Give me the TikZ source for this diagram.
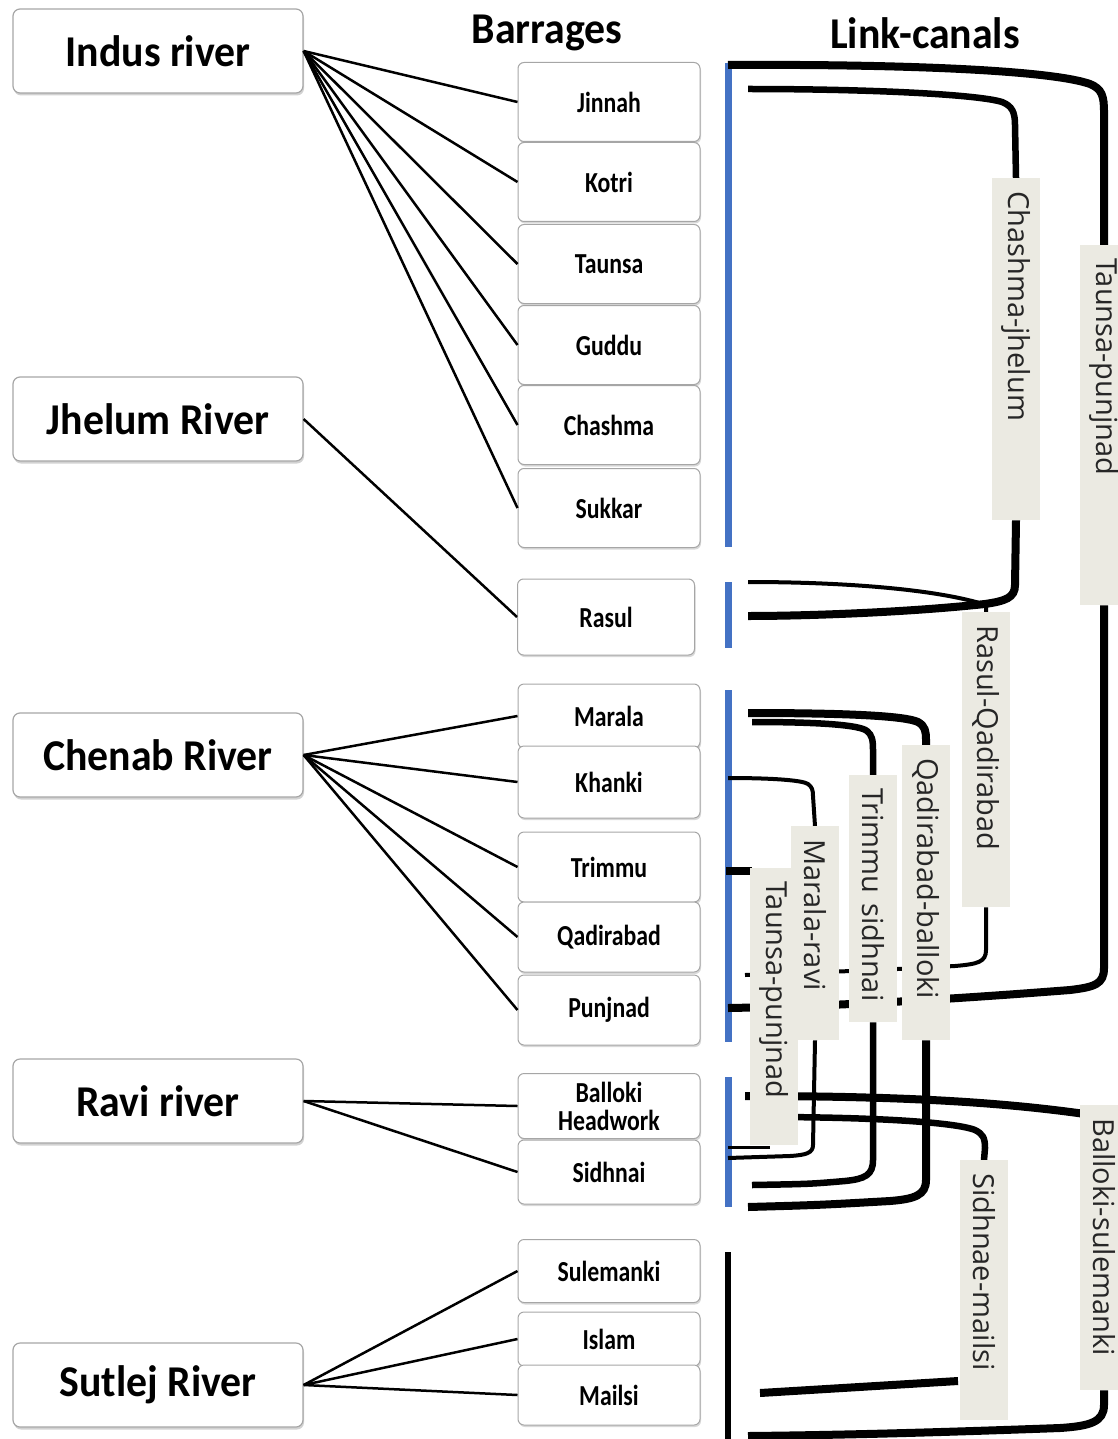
\documentclass[tikz,border=0pt]{standalone}
\usepackage{fontspec}
\setmainfont{Carlito}
\newfontfamily\rivfont{Carlito}[FakeStretch=0.95]
\newfontfamily\barfont{Carlito}[FakeStretch=0.82]
\newfontfamily\lblfont{Open Sans}
\usetikzlibrary{shadows,calc}
\pgfdeclarelayer{bg}
\pgfsetlayers{bg,main}
\definecolor{barblue}{HTML}{4472C4}
\definecolor{lblbg}{HTML}{EBEAE2}
\definecolor{boxline}{HTML}{A6A6A6}
\begin{document}
\begin{tikzpicture}[x=1pt,y=-1pt,
  rivbox/.style={draw=boxline, line width=1.2pt, rounded corners=7pt, fill=white,
    drop shadow={shadow xshift=1pt,shadow yshift=-2.5pt,fill=black!35},
    minimum width=290pt, minimum height=84pt, inner sep=0pt,
    font=\rivfont\bfseries\fontsize{44}{48}\selectfont},
  barbox/.style={draw=boxline, line width=1pt, rounded corners=6pt, fill=white,
    drop shadow={shadow xshift=1pt,shadow yshift=-2pt,fill=black!30},
    minimum width=182pt, inner sep=0pt, align=center,
    font=\barfont\bfseries\fontsize{29}{29}\selectfont},
  hdr/.style={font=\rivfont\bfseries\fontsize{44}{48}\selectfont, inner sep=0pt},
  lbl/.style={fill=lblbg, rotate=-90, anchor=west, minimum height=48pt,
    inner xsep=13pt, inner ysep=0pt, align=left, text=black!85,
    font=\lblfont\fontsize{29}{29}\selectfont},
  feed/.style={line width=2.5pt, black},
  canal/.style={line width=8pt, black},
  canalm/.style={line width=6.5pt, black},
  canalt/.style={line width=4pt, black},
  bluebar/.style={line width=7pt, barblue},
]
\useasboundingbox (0,0) rectangle (1117,1439);

% headers
\node[hdr] (hb) at (547,33) {Barrages};
\node[hdr] (hl) at (925,33) {Link-canals};

% rivers
\node[rivbox] (indus)  at (158,51)   {Indus river};
\node[rivbox] (jhelum) at (158,419)  {Jhelum River};
\node[rivbox] (chenab) at (158,755)  {Chenab River};
\node[rivbox] (ravi)   at (158,1101) {Ravi river};
\node[rivbox] (sutlej) at (158,1385) {Sutlej River};

% barrages
\node[barbox, minimum height=79pt] (jinnah)  at (609,102) {Jinnah};
\node[barbox, minimum height=79pt] (kotri)   at (609,182) {Kotri};
\node[barbox, minimum height=79pt] (taunsa)  at (609,264) {Taunsa};
\node[barbox, minimum height=79pt] (guddu)   at (609,345) {Guddu};
\node[barbox, minimum height=79pt] (chashma) at (609,425) {Chashma};
\node[barbox, minimum height=79pt] (sukkar)  at (609,508) {Sukkar};
\node[barbox, minimum height=76pt, minimum width=177pt] (rasul) at (606,617) {Rasul};
\node[barbox, minimum height=64pt] (marala)  at (609,716) {Marala};
\node[barbox, minimum height=72pt] (khanki)  at (609,782) {Khanki};
\node[barbox, minimum height=70pt] (trimmu)  at (609,867) {Trimmu};
\node[barbox, minimum height=70pt] (qadir)   at (609,937) {Qadirabad};
\node[barbox, minimum height=70pt] (punjnad) at (609,1010) {Punjnad};
\node[barbox, minimum height=65pt] (balloki) at (609,1106) {Balloki\\[-1pt]Headwork};
\node[barbox, minimum height=64pt] (sidhnai) at (609,1172) {Sidhnai};
\node[barbox, minimum height=63pt] (sulem)   at (609,1271) {Sulemanki};
\node[barbox, minimum height=54pt] (islam)   at (609,1339) {Islam};
\node[barbox, minimum height=60pt] (mailsi)  at (609,1395) {Mailsi};

% feeders
\foreach \b in {jinnah,kotri,taunsa,guddu,chashma,sukkar}
  \draw[feed] (indus.east) -- (\b.west);
\draw[feed] (jhelum.east) -- (rasul.west);
\foreach \b in {marala,khanki,trimmu,qadir,punjnad}
  \draw[feed] (chenab.east) -- (\b.west);
\foreach \b in {balloki,sidhnai}
  \draw[feed] (ravi.east) -- (\b.west);
\foreach \b in {sulem,islam,mailsi}
  \draw[feed] (sutlej.east) -- (\b.west);

% canal labels
\node[lbl, text width=334pt] (tpa) at (1104,245)  {Taunsa-punjnad};
\node[lbl, text width=316pt] (cj)  at (1016,178)  {Chashma-jhelum};
\node[lbl, text width=269pt] (rq)  at (986,612)   {Rasul-Qadirabad};
\node[lbl, text width=251pt] (tpb) at (774,868)   {Taunsa-punjnad};
\node[lbl, text width=188pt] (mr)  at (815,826)   {Marala-ravi};
\node[lbl, text width=221pt] (ts)  at (873,775)   {Trimmu sidhnai};
\node[lbl, text width=269pt] (qb)  at (926,745)   {Qadirabad-balloki};
\node[lbl, text width=234pt] (sm)  at (984,1160)  {Sidhnae-mailsi};
\node[lbl, text width=259pt] (bs)  at (1104,1105) {Balloki-sulemanki};

% end points on the barrage bars
\coordinate (tp0) at (728,65);   \coordinate (tp1) at (728,1008);
\coordinate (cj0) at (748,89);   \coordinate (cj1) at (748,616);
\coordinate (rq0) at (748,582);  \coordinate (rq1) at (745,975);
\coordinate (qb0) at (748,713);  \coordinate (qb1) at (748,1207);
\coordinate (ts0) at (752,722);  \coordinate (ts1) at (752,1185);
\coordinate (mr0) at (728,778);  \coordinate (mr1) at (728,1158);
\coordinate (bs0) at (745,1096); \coordinate (bs1) at (748,1436);
\coordinate (sm0) at (765,1117); \coordinate (sm1) at (760,1393); \coordinate (sm2) at (958,1381);
\coordinate (tb0) at (726,871);  \coordinate (tb1) at (752,871);
\coordinate (tb2) at (728,1147); \coordinate (tb3) at (770,1147);

\begin{pgfonlayer}{bg}
  \draw[bluebar] (728,63) -- (728,547);
  \draw[bluebar] (728,582) -- (728,648);
  \draw[bluebar] (728,690) -- (728,1042);
  \draw[bluebar] (728,1077) -- (728,1207);
  \draw[line width=6pt] (728,1252) -- (728,1439);

  % Taunsa-punjnad (upper)
  \draw[canal] (tp0) .. controls (900,64) and (1050,70) .. (1090,84)
     .. controls (1102,89) and (1104,96) .. (1104,112) -- (tpa.west);
  \draw[canal] (tpa.east) -- (1104,968) .. controls (1104,984) and (1095,987) .. (1070,990)
     .. controls (980,997) and (850,1006) .. (tp1);
  % Chashma-jhelum
  \draw[canalm] (cj0) .. controls (880,89) and (980,95) .. (1002,102)
     .. controls (1012,106) and (1015,112) .. (1015,125) -- (cj.west);
  \draw[canal] (cj.east) -- (1015,585) .. controls (1015,598) and (1005,601) .. (985,604)
     .. controls (900,613) and (800,616) .. (cj1);
  % Rasul-Qadirabad
  \draw[canalt] (rq0) .. controls (850,582) and (940,590) .. (986,605) -- (rq.west);
  \draw[canalt] (rq.east) -- (986,950) .. controls (986,962) and (978,964) .. (955,966)
     .. controls (880,970) .. (rq1);
  % Qadirabad-balloki
  \draw[canal] (qb0) .. controls (850,713) and (905,716) .. (918,722)
     .. controls (925,726) and (926,731) .. (926,740) -- (qb.west);
  \draw[canal] (qb.east) -- (926,1180) .. controls (926,1195) and (915,1199) .. (890,1201)
     .. controls (820,1205) .. (qb1);
  % Trimmu sidhnai
  \draw[canalm] (ts0) .. controls (820,722) and (860,725) .. (867,731)
     .. controls (872,735) and (873,740) .. (873,750) -- (ts.west);
  \draw[canalm] (ts.east) -- (873,1160) .. controls (873,1175) and (865,1179) .. (845,1181)
     .. controls (810,1184) .. (ts1);
  % Marala-ravi
  \draw[canalt] (mr0) .. controls (770,778) and (802,780) .. (808,784)
     .. controls (812,787) and (813,790) .. (813,796) -- (mr.west);
  \draw[canalt] (mr.east) -- (813,1145) .. controls (813,1153) and (806,1155) .. (790,1156) -- (mr1);
  % Balloki-sulemanki
  \draw[canal] (bs0) .. controls (900,1096) and (1000,1102) .. (1085,1114) -- (bs.center);
  \draw[canal] (bs.east) -- (1104,1405) .. controls (1104,1422) and (1090,1426) .. (1060,1428)
     .. controls (950,1432) and (850,1435) .. (bs1);
  % Sidhnae-mailsi
  \draw[canalm] (sm0) .. controls (870,1117) and (955,1122) .. (975,1130)
     .. controls (983,1134) and (985,1138) .. (985,1148) -- (sm.west);
  \draw[canal] (sm1) -- (sm2);
  % Taunsa-punjnad (lower) stub
  \draw[canal] (tb0) -- (tb1);
\end{pgfonlayer}
\draw[line width=3pt] (tb2) -- (tb3);
\end{tikzpicture}
\end{document}
